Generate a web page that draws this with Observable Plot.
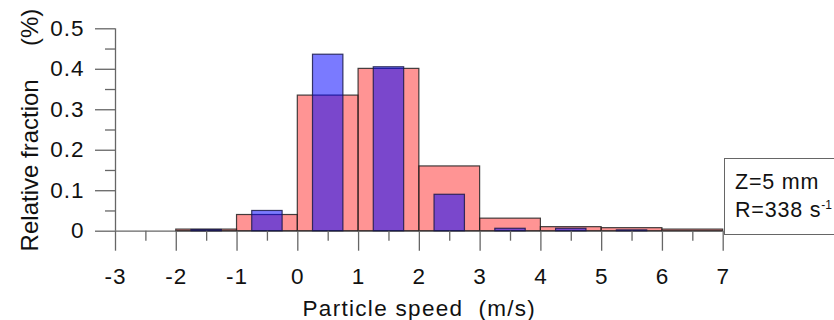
<!DOCTYPE html>
<html>
<head>
<meta charset="utf-8">
<script src="https://cdn.jsdelivr.net/npm/d3@7"></script>
<script src="https://cdn.jsdelivr.net/npm/@observablehq/plot@0.6"></script>
<style>
  html, body { margin: 0; padding: 0; background: #fff; overflow: hidden; width: 834px; height: 320px; }
  #wrap { position: relative; width: 834px; height: 320px; }
  #legend {
    position: absolute; left: 724px; top: 158px; width: 140px; height: 77px;
    border: 1px solid #666; background: #fff;
    font-family: "Liberation Sans", Arial, sans-serif; font-size: 21.5px; line-height: 28px;
    letter-spacing: 0.8px; color: #111; padding: 9px 0 0 10px; box-sizing: border-box;
  }
  #legend sup { font-size: 12px; line-height: 0; letter-spacing: 0; vertical-align: 8px; }
  #chart g[aria-label="x-axis tick label"] text,
  #chart g[aria-label="y-axis tick label"] text { letter-spacing: 1px; }
  #chart g[aria-label="x-axis label"] text { letter-spacing: 1.3px; }
</style>
</head>
<body>
<div id="wrap">
  <div id="chart"></div>
  <div id="legend">Z=5 mm<br>R=338 s<sup>-1</sup></div>
</div>
<script>
// Bin start (m/s), each red bin is 1 m/s wide; blue bars are the inner half of each bin
const binStarts = [-2, -1, 0, 1, 2, 3, 4, 5, 6];
const redValues = [0.004, 0.04, 0.335, 0.401, 0.16, 0.031, 0.01, 0.0075, 0.004];
const blueValues = [0.003, 0.05, 0.436, 0.405, 0.09, 0.006, 0.006, 0.002, 0];

const xMajorTicks = [-3, -2, -1, 0, 1, 2, 3, 4, 5, 6, 7];
const xMinorTicks = [-2.5, -1.5, -0.5, 0.5, 1.5, 2.5, 3.5, 4.5, 5.5, 6.5];
const yMajorTicks = [0, 0.1, 0.2, 0.3, 0.4, 0.5];
const yMinorTicks = [0.05, 0.15, 0.25, 0.35, 0.45];

const xLabel = "Particle speed\u00a0\u00a0(m/s)";
const yLabel = "Relative fraction\u00a0\u00a0\u00a0\u00a0\u00a0(%)";

const red = binStarts.map((s, i) => ({x1: s, x2: s + 1, y: redValues[i]}));
const blue = binStarts.map((s, i) => ({x1: s + 0.25, x2: s + 0.75, y: blueValues[i]}));

const axisColor = "#666";
const font = "'Liberation Sans', Arial, sans-serif";

const chart = Plot.plot({
  width: 834,
  height: 320,
  marginLeft: 115,
  marginRight: 111.3,
  marginTop: 28.3,
  marginBottom: 89.3,
  x: {domain: [-3, 7]},
  y: {domain: [0, 0.5]},
  style: {
    fontFamily: font,
    fontSize: "22px",
    color: "#111",
    background: "transparent",
    overflow: "visible"
  },
  marks: [
    Plot.ruleX([-3], {y1: 0, y2: 0.5, stroke: axisColor, strokeWidth: 1.3}),
    Plot.ruleY([0], {x1: -3, x2: 7, stroke: axisColor, strokeWidth: 1.3}),
    Plot.rectY(red, {x1: "x1", x2: "x2", y: "y", fill: "rgb(255,0,0)", fillOpacity: 0.42,
      stroke: "#222", strokeOpacity: 0.85, strokeWidth: 1.2}),
    Plot.rectY(blue, {x1: "x1", x2: "x2", y: "y", fill: "rgb(0,0,255)", fillOpacity: 0.52,
      stroke: "#1a1a4a", strokeOpacity: 0.85, strokeWidth: 1.2}),
    Plot.axisX({ticks: xMajorTicks, tickSize: 20, tickPadding: 17, stroke: axisColor, strokeWidth: 1.3,
      fontSize: 22.5, fontFamily: font,
      tickFormat: d => String(d), label: xLabel, labelAnchor: "center", labelOffset: 85, labelArrow: "none"}),
    Plot.axisX({ticks: xMinorTicks, tickSize: 10, stroke: axisColor, strokeWidth: 1.3,
      tickFormat: () => "", label: null}),
    Plot.axisY({ticks: yMajorTicks, tickSize: 20, tickPadding: 11, stroke: axisColor, strokeWidth: 1.3,
      fontSize: 22.5, fontFamily: font,
      tickFormat: d => d === 0 ? "0" : d.toFixed(1), label: null}),
    Plot.axisY({ticks: yMinorTicks, tickSize: 10, stroke: axisColor, strokeWidth: 1.3,
      fontSize: 24, fontFamily: font,
      tickFormat: () => "", label: yLabel, labelAnchor: "center", labelOffset: 95, labelArrow: "none"})
  ]
});
document.getElementById("chart").appendChild(chart);
</script>
</body>
</html>
